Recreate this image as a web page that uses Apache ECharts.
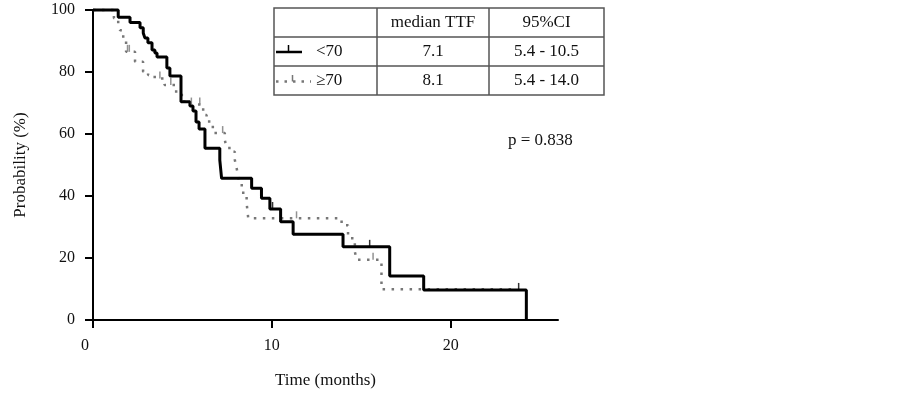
<!DOCTYPE html>
<html>
<head>
<meta charset="utf-8">
<script src="https://cdn.jsdelivr.net/npm/echarts@6/dist/echarts.min.js"></script>
<style>
  html, body { margin: 0; padding: 0; background: #fff; }
  #chart { width: 902px; height: 394px; }
</style>
</head>
<body>
<div id="chart"></div>
<script>
// <70 group (solid line): time of each drop (months) and survival after it (%)
var timeUnder70 = [0, 1.41, 2.07, 2.63, 2.81, 2.9, 3.07, 3.3, 3.46, 3.58, 4.13, 4.3, 4.92, 5.42, 5.59, 5.76, 5.93, 6.26, 7.09, 7.19, 8.87, 9.42, 9.89, 10.49, 11.19, 13.98, 16.59, 18.49, 24.23];
var probUnder70 = [100, 97.7, 96.0, 94.3, 92.6, 91.0, 89.4, 87.1, 86.1, 84.8, 81.3, 78.7, 70.4, 69.0, 67.4, 63.9, 61.6, 55.4, 51.6, 45.7, 42.5, 39.3, 35.8, 31.7, 27.7, 23.6, 14.2, 9.7, 0];
var censorTimeUnder70 = [10.04, 15.47, 23.8];
var censorProbUnder70 = [35.8, 23.6, 9.7];

// >=70 group (dotted line)
var timeOver70 = [0, 1.17, 1.41, 1.51, 1.69, 1.85, 2.35, 2.8, 3.08, 3.45, 4.0, 4.65, 5.1, 6.16, 6.35, 6.7, 7.37, 7.47, 7.75, 7.93, 8.03, 8.12, 8.21, 8.4, 8.59, 8.68, 13.9, 14.26, 14.64, 14.75, 16.13, 23.6];
var probOver70 = [100, 97.3, 95.4, 93.5, 90.9, 86.5, 83.3, 80.1, 79.0, 77.9, 75.8, 72.6, 69.5, 66.1, 64.0, 60.3, 58.1, 55.5, 54.3, 51.6, 49.0, 46.2, 43.5, 40.3, 37.7, 32.8, 30.6, 26.4, 22.0, 19.4, 9.9, 9.9];
var censorTimeOver70 = [1.93, 2.03, 3.74, 4.35, 5.5, 5.97, 7.25, 11.38, 15.66];
var censorProbOver70 = [86.5, 86.5, 77.9, 75.8, 69.5, 69.5, 60.3, 32.8, 19.4];

// table + annotation text
var tableHeaders = ['median TTF', '95%CI'];
var groupLabels = ['<70', '≥70'];
var medianTTF = ['7.1', '8.1'];
var ci95 = ['5.4 - 10.5', '5.4 - 14.0'];
var pValueText = 'p = 0.838';

var xTicks = [0, 10, 20];
var yTicks = [0, 20, 40, 60, 80, 100];

function zip(xs, ys) {
  return xs.map(function (x, i) { return [x, ys[i]]; });
}

var FONT = '"Liberation Serif", "Times New Roman", serif';
var GREY = '#777';

// table geometry
var tL = 274, tR = 604, tT = 8, tB = 95;
var rows = [tT, 37, 66, tB];
var cols = [tL, 377, 489, tR];

function cellText(x, y, txt, align) {
  return {
    type: 'text', x: x, y: y, silent: true,
    style: { text: txt, font: '17px ' + FONT, fill: '#111', align: align || 'center', verticalAlign: 'middle' }
  };
}
function seg(x1, y1, x2, y2, color, width, dash) {
  return {
    type: 'line', silent: true,
    shape: { x1: x1, y1: y1, x2: x2, y2: y2 },
    style: { stroke: color, lineWidth: width, lineDash: dash || null }
  };
}

var tableEls = [
  { type: 'rect', silent: true, shape: { x: tL, y: tT, width: tR - tL, height: tB - tT },
    style: { fill: '#fff', stroke: '#555', lineWidth: 1.5 } },
  seg(tL, rows[1], tR, rows[1], '#555', 1.5),
  seg(tL, rows[2], tR, rows[2], '#555', 1.5),
  seg(cols[1], tT, cols[1], tB, '#555', 1.5),
  seg(cols[2], tT, cols[2], tB, '#555', 1.5)
];
var cx1 = (cols[1] + cols[2]) / 2, cx2 = (cols[2] + cols[3]) / 2;
tableEls.push(cellText(cx1, (rows[0] + rows[1]) / 2, tableHeaders[0]));
tableEls.push(cellText(cx2, (rows[0] + rows[1]) / 2, tableHeaders[1]));
for (var r = 0; r < 2; r++) {
  var cy = (rows[r + 1] + rows[r + 2]) / 2;
  tableEls.push(cellText(316, cy, groupLabels[r], 'left'));
  tableEls.push(cellText(cx1, cy, medianTTF[r]));
  tableEls.push(cellText(cx2, cy, ci95[r]));
}
// legend keys inside the table
tableEls.push(seg(276, 52, 302, 52, '#000', 2.5));
tableEls.push(seg(288.5, 45, 288.5, 52, '#000', 1.5));
tableEls.push(seg(276, 81.5, 311, 81.5, GREY, 2.5, [2.5, 6]));
tableEls.push(seg(292.5, 75, 292.5, 81.5, GREY, 1.5));

tableEls.push({
  type: 'text', x: 508, y: 141, silent: true,
  style: { text: pValueText, font: '17px ' + FONT, fill: '#111', align: 'left', verticalAlign: 'middle' }
});

var chart = echarts.init(document.getElementById('chart'));

var option = {
  backgroundColor: '#fff',
  animation: false,
  grid: { left: 93, right: 344, top: 10, bottom: 74, containLabel: false },
  xAxis: {
    type: 'value',
    min: 0, max: 26,
    name: 'Time (months)',
    nameLocation: 'middle',
    nameGap: 52,
    nameTextStyle: { fontFamily: FONT, fontSize: 17, color: '#111' },
    axisLine: { show: true, onZero: false, lineStyle: { color: '#000', width: 2 } },
    axisTick: { show: true, inside: false, length: 8, lineStyle: { color: '#000', width: 2 }, customValues: xTicks },
    axisLabel: {
      margin: 18, fontFamily: FONT, fontSize: 16, color: '#111',
      customValues: xTicks,
      formatter: function (v) { return v === 0 ? '{z|0}' : String(v); },
      rich: { z: { padding: [0, 16, 0, 0], fontFamily: FONT, fontSize: 16, color: '#111' } }
    },
    splitLine: { show: false }
  },
  yAxis: {
    type: 'value',
    min: 0, max: 100, interval: 20,
    name: 'Probability (%)',
    nameLocation: 'middle',
    nameGap: 64,
    nameRotate: 90,
    nameTextStyle: { fontFamily: FONT, fontSize: 17, color: '#111' },
    axisLine: { show: true, lineStyle: { color: '#000', width: 2 } },
    axisTick: { show: true, inside: false, length: 8, lineStyle: { color: '#000', width: 2 } },
    axisLabel: { margin: 18, fontFamily: FONT, fontSize: 16, color: '#111' },
    splitLine: { show: false }
  },
  series: [
    {
      name: '≥70',
      type: 'line',
      step: 'end',
      data: zip(timeOver70, probOver70),
      symbol: 'none',
      clip: false,
      z: 2,
      lineStyle: { color: GREY, width: 2.5, type: [2.5, 6.5], cap: 'butt' }
    },
    {
      name: '<70',
      type: 'line',
      step: 'end',
      data: zip(timeUnder70, probUnder70),
      symbol: 'none',
      clip: false,
      z: 3,
      lineStyle: { color: '#000', width: 3 }
    },
    {
      name: '≥70 censored',
      type: 'scatter',
      data: zip(censorTimeOver70, censorProbOver70),
      symbol: 'rect',
      symbolSize: [1.5, 7],
      symbolOffset: [0, -3.5],
      itemStyle: { color: GREY },
      z: 4
    },
    {
      name: '<70 censored',
      type: 'scatter',
      data: zip(censorTimeUnder70, censorProbUnder70),
      symbol: 'rect',
      symbolSize: [1.5, 7],
      symbolOffset: [0, -3.5],
      itemStyle: { color: '#000' },
      z: 4
    }
  ],
  graphic: tableEls
};

chart.setOption(option);
</script>
</body>
</html>
